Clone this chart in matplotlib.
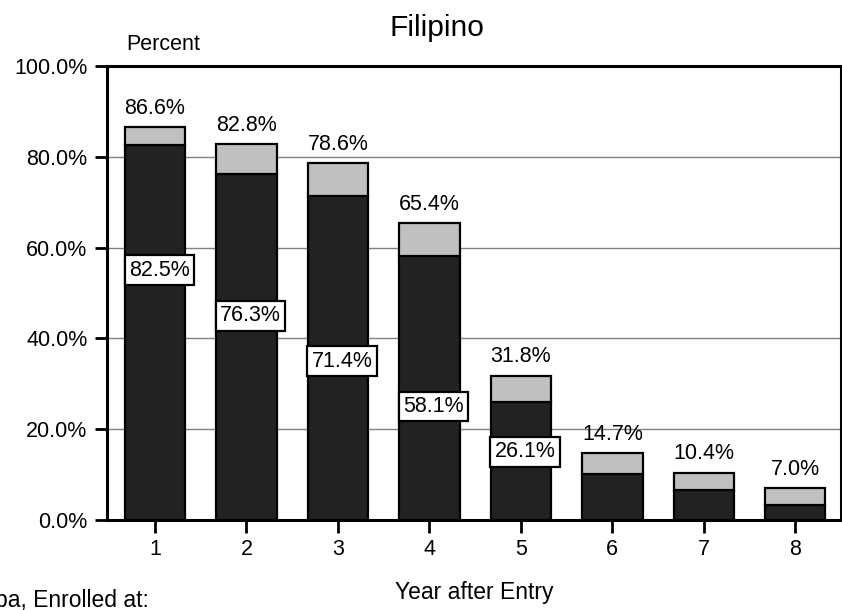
import matplotlib.pyplot as plt
from matplotlib.ticker import FuncFormatter

plt.rcParams['font.family'] = ['Liberation Sans', 'DejaVu Sans']

# data
years = [1, 2, 3, 4, 5, 6, 7, 8]
enrolled_same = [82.5, 76.3, 71.4, 58.1, 26.1, 10.2, 6.6, 3.2]
enrolled_total = [86.6, 82.8, 78.6, 65.4, 31.8, 14.7, 10.4, 7.0]
labelled_years = 5  # only first five bars show the inner label

enrolled_other = [t - s for t, s in zip(enrolled_total, enrolled_same)]

fig = plt.figure(figsize=(8.42, 6.10), dpi=100)
ax = fig.add_axes([107 / 842, 1 - 520 / 610, (841 - 107) / 842, (520 - 66) / 610])

ax.bar(years, enrolled_same, width=0.66, color='#222222', edgecolor='black', linewidth=1.6, zorder=3)
ax.bar(years, enrolled_other, bottom=enrolled_same, width=0.66, color='#c0c0c0',
       edgecolor='black', linewidth=1.6, zorder=3)

for x, t in zip(years, enrolled_total):
    ax.annotate(f"{t:.1f}%", (x, t), xytext=(0, 6), textcoords='offset points',
                ha='center', va='bottom', fontsize=15.5)

for i in range(labelled_years):
    ax.annotate(f"{enrolled_same[i]:.1f}%", (years[i], 55 - 10 * i), xytext=(3, 0),
                textcoords='offset points', ha='center', va='center',
                fontsize=15.5, zorder=5,
                bbox=dict(boxstyle='square,pad=0.2', fc='white', ec='black', lw=1.6))

ax.set_xlim(0.475, 8.5)
ax.set_ylim(0, 100)
ax.set_xticks(years)
ax.set_yticks([0, 20, 40, 60, 80, 100])
ax.yaxis.set_major_formatter(FuncFormatter(lambda v, p: f"{v:.1f}%"))
ax.tick_params(axis='both', direction='out', length=9, width=2, labelsize=15.5, pad=5)
ax.grid(axis='y', color='#808080', lw=1, zorder=0)
for s in ax.spines.values():
    s.set_linewidth(2.2)

fig.text(437 / 842, 1 - 28 / 610, "Filipino", ha='center', va='center', fontsize=21.5)
fig.text(163 / 842, 1 - 45 / 610, "Percent", ha='center', va='center', fontsize=15.5)
fig.text(474 / 842, 1 - 593 / 610, "Year after Entry", ha='center', va='center', fontsize=16.5)
fig.text(-5 / 842, 1 - 601 / 610, "pa, Enrolled at:", ha='left', va='center', fontsize=16.5)

fig.savefig("out.png", dpi=100)
